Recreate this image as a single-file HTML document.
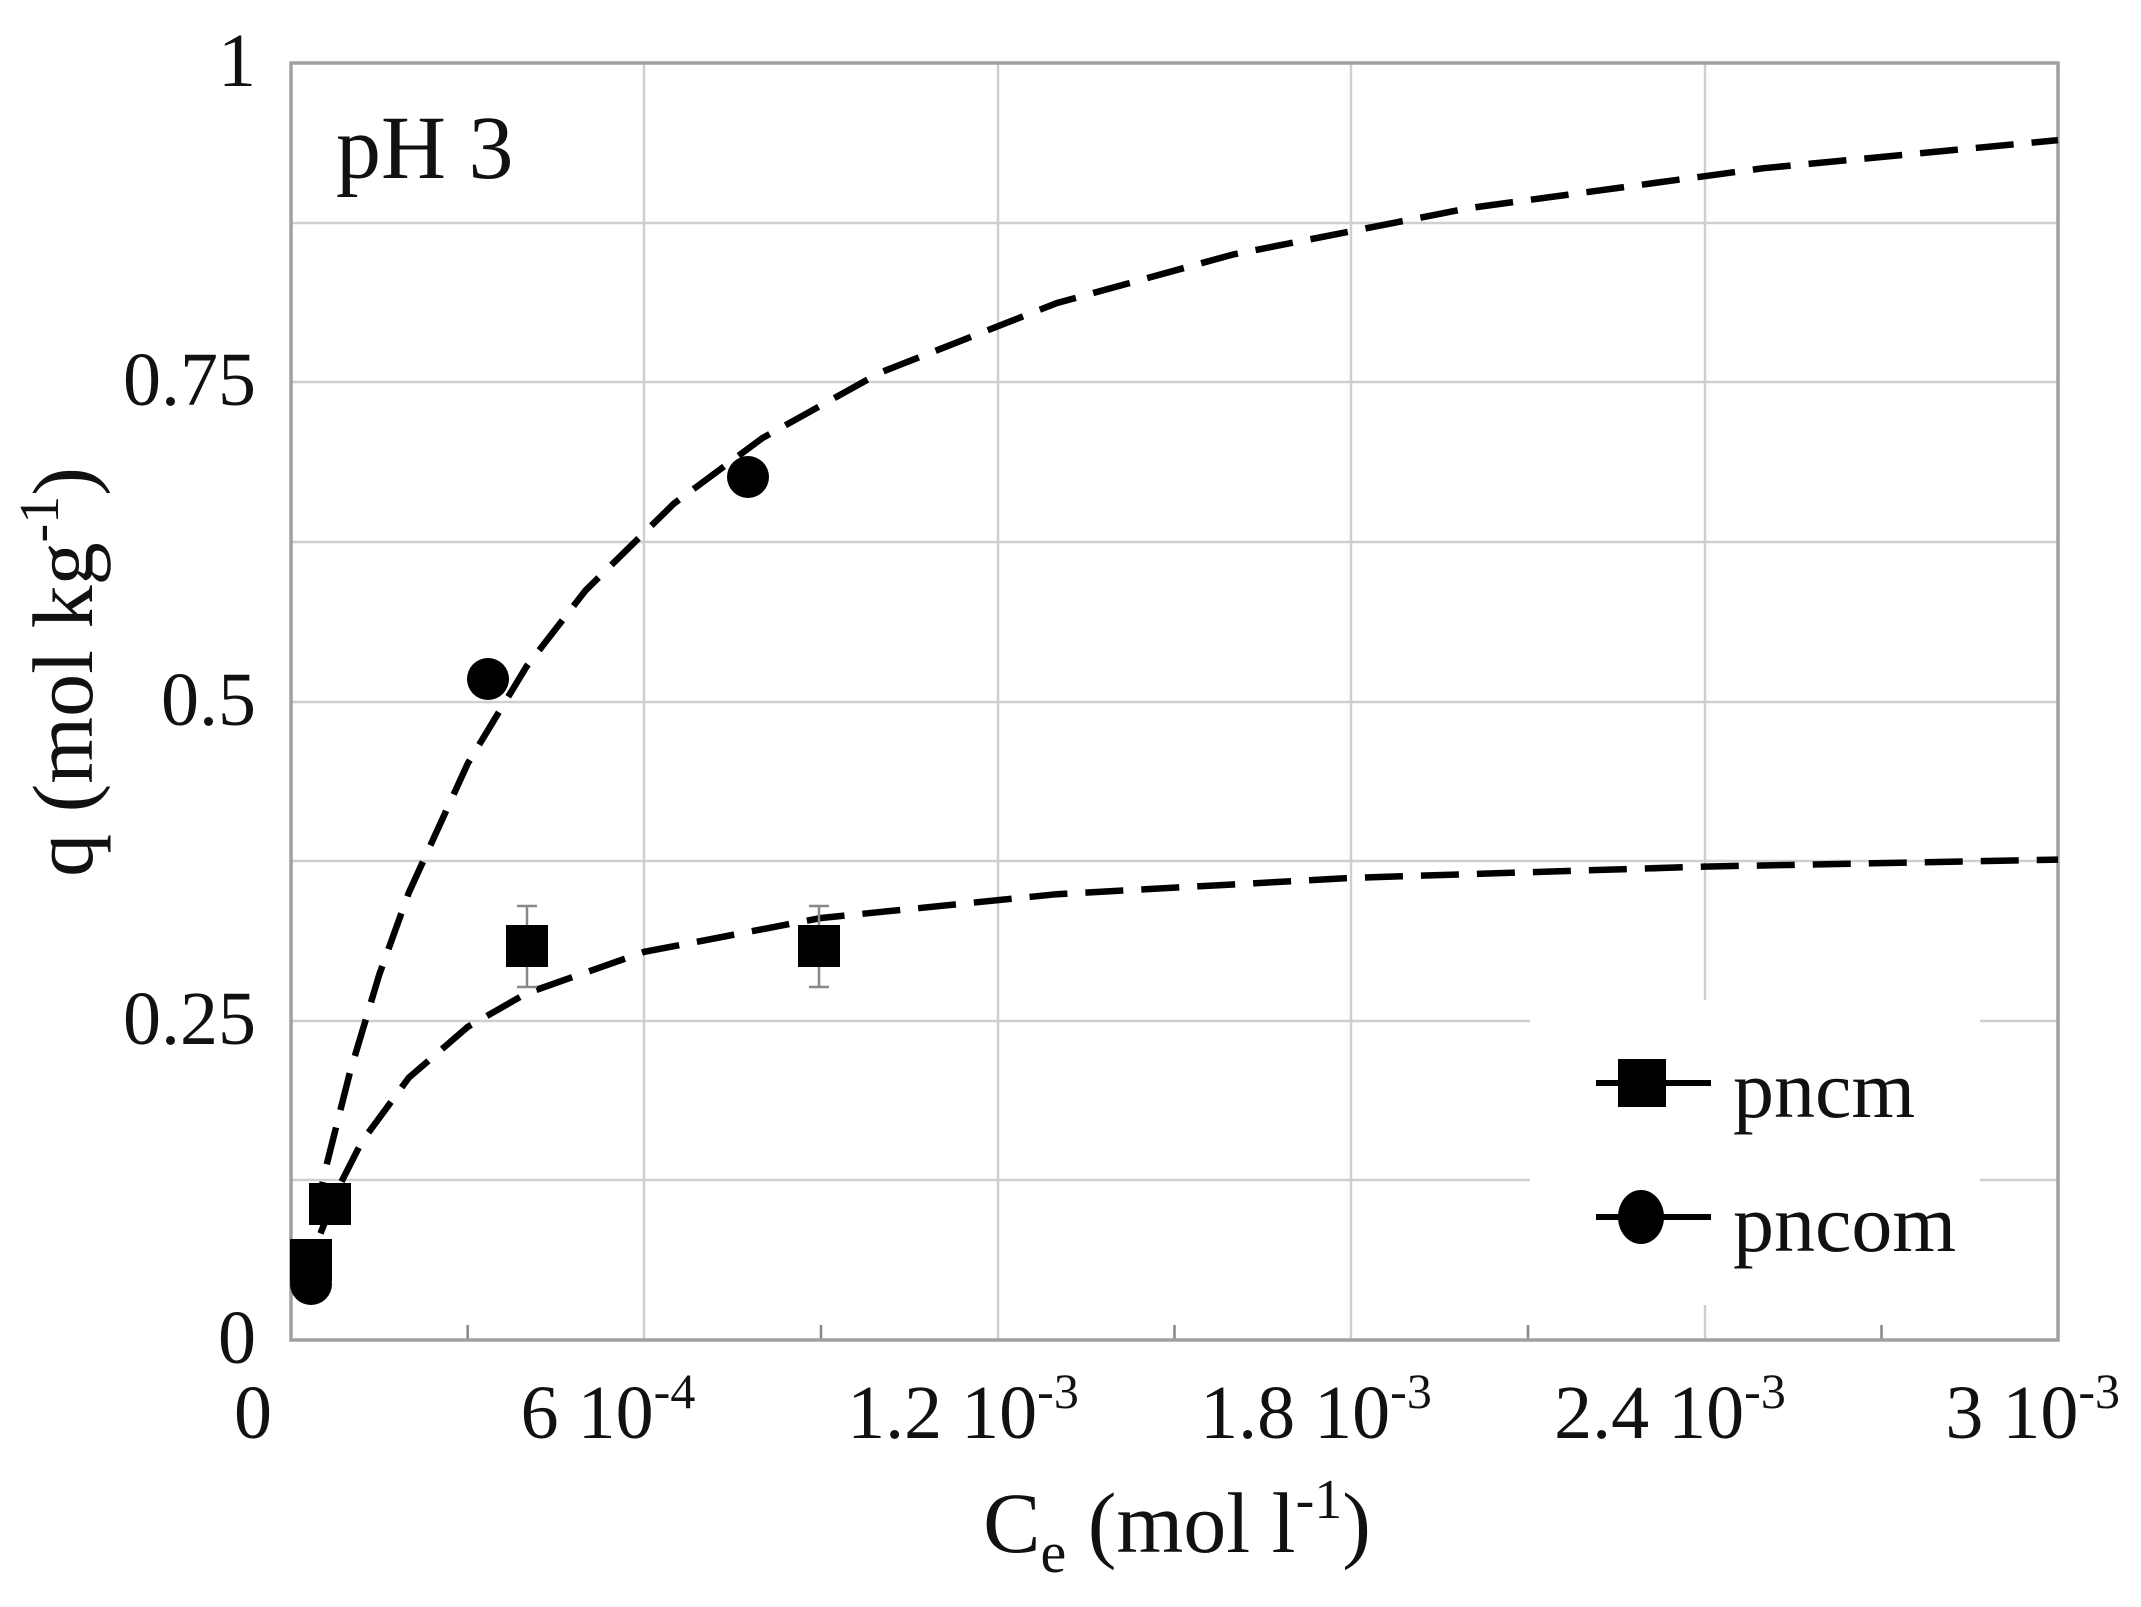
<!DOCTYPE html>
<html><head><meta charset="utf-8"><style>
html,body{margin:0;padding:0;background:#fff;}
svg{display:block;}
text{font-family:"Liberation Serif",serif;fill:#111;}
</style></head><body>
<svg width="2141" height="1607" viewBox="0 0 2141 1607" xmlns="http://www.w3.org/2000/svg">
<rect width="2141" height="1607" fill="#fff"/>
<!-- grid -->
<g stroke="#cfcfcf" stroke-width="2.5">
<line x1="291" y1="223" x2="2058" y2="223"/>
<line x1="291" y1="382" x2="2058" y2="382"/>
<line x1="291" y1="542" x2="2058" y2="542"/>
<line x1="291" y1="702" x2="2058" y2="702"/>
<line x1="291" y1="861" x2="2058" y2="861"/>
<line x1="291" y1="1021" x2="2058" y2="1021"/>
<line x1="291" y1="1180" x2="2058" y2="1180"/>
<line x1="644" y1="63" x2="644" y2="1340"/>
<line x1="998" y1="63" x2="998" y2="1340"/>
<line x1="1351" y1="63" x2="1351" y2="1340"/>
<line x1="1705" y1="63" x2="1705" y2="1340"/>
</g>
<!-- minor ticks -->
<g stroke="#888" stroke-width="2.5">
<line x1="467.7" y1="1340" x2="467.7" y2="1325"/>
<line x1="821" y1="1340" x2="821" y2="1325"/>
<line x1="1174.5" y1="1340" x2="1174.5" y2="1325"/>
<line x1="1528" y1="1340" x2="1528" y2="1325"/>
<line x1="1881.5" y1="1340" x2="1881.5" y2="1325"/>
</g>
<!-- legend box -->
<rect x="1530" y="1000" width="450" height="305" fill="#fff"/>
<!-- axes frame -->
<rect x="291" y="63" width="1767" height="1277" fill="none" stroke="#a0a0a0" stroke-width="3.5"/>
<!-- curves -->
<g fill="none" stroke="#000" stroke-width="6.5" stroke-dasharray="38,18">
<polyline points="314.6,1219 326.3,1166 349.9,1072.5 379.3,974.5 408.8,892.7 467.7,763.6 526.6,666.4 585.5,590.5 673.9,503.6 762.2,438.2 880,372.7 1056.7,303.1 1233.4,254.4 1469,208.1 1763.5,168.2 2058,140.1"/>
<polyline points="320.5,1233.4 338.1,1188.3 361.7,1141.9 408.8,1077.7 467.7,1026.9 526.6,993.3 644.4,951.8 821.1,918 1056.7,894.2 1351.2,877.9 1704.6,866.6 2058,859.6"/>
</g>
<!-- error bars -->
<g stroke="#888" stroke-width="2.5">
<line x1="527" y1="906" x2="527" y2="987"/><line x1="517" y1="906" x2="537" y2="906"/><line x1="517" y1="987" x2="537" y2="987"/>
<line x1="819" y1="906" x2="819" y2="987"/><line x1="809" y1="906" x2="829" y2="906"/><line x1="809" y1="987" x2="829" y2="987"/>
</g>
<!-- markers -->
<g fill="#000">
<rect x="290" y="1239" width="42" height="42"/>
<rect x="309" y="1183" width="42" height="42"/>
<rect x="506" y="925" width="42" height="42"/>
<rect x="798" y="925" width="42" height="42"/>
<circle cx="311" cy="1284" r="21"/>
<circle cx="488" cy="679" r="21"/>
<circle cx="748" cy="477" r="21"/>
</g>
<!-- legend -->
<g stroke="#000" stroke-width="6">
<line x1="1596" y1="1083" x2="1711" y2="1083"/>
<line x1="1596" y1="1217" x2="1711" y2="1217"/>
</g>
<rect x="1618" y="1059" width="48" height="48" fill="#000"/>
<ellipse cx="1641" cy="1217" rx="23" ry="27" fill="#000"/>
<text x="1733" y="1117" font-size="82">pncm</text>
<text x="1733" y="1251" font-size="82">pncom</text>
<!-- pH label -->
<text x="336" y="178" font-size="90">pH 3</text>
<!-- y tick labels -->
<g font-size="76" text-anchor="end">
<text x="256" y="86">1</text>
<text x="256" y="405">0.75</text>
<text x="256" y="725">0.5</text>
<text x="256" y="1044">0.25</text>
<text x="256" y="1363">0</text>
</g>
<!-- x tick labels -->
<g font-size="76" text-anchor="middle">
<text x="253" y="1438">0</text>
<text x="608" y="1438">6 10<tspan font-size="50" dy="-30">-4</tspan></text>
<text x="963" y="1438">1.2 10<tspan font-size="50" dy="-30">-3</tspan></text>
<text x="1316" y="1438">1.8 10<tspan font-size="50" dy="-30">-3</tspan></text>
<text x="1670" y="1438">2.4 10<tspan font-size="50" dy="-30">-3</tspan></text>
<text x="2120" y="1438" text-anchor="end">3 10<tspan font-size="50" dy="-30">-3</tspan></text>
</g>
<!-- axis labels -->
<text x="1177" y="1552" font-size="86" text-anchor="middle">C<tspan font-size="58" dy="20">e</tspan><tspan dy="-20"> (mol l</tspan><tspan font-size="56" dy="-34">-1</tspan><tspan dy="34">)</tspan></text>
<text transform="translate(92,672) rotate(-90)" font-size="86" text-anchor="middle">q (mol kg<tspan font-size="56" dy="-34">-1</tspan><tspan dy="34">)</tspan></text>
</svg>
</body></html>
